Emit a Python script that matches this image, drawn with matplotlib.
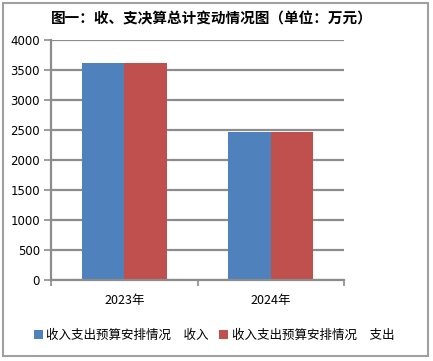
import numpy as np
import matplotlib.pyplot as plt
from matplotlib.patches import Rectangle

plt.rcParams['font.family'] = ['Noto Sans CJK SC', 'DejaVu Sans']

years = ['2023年', '2024年']
income = [3615, 2460]
expense = [3615, 2460]
labels = ['收入支出预算安排情况　收入', '收入支出预算安排情况　支出']
yticks = [0, 500, 1000, 1500, 2000, 2500, 3000, 3500, 4000]

fig = plt.figure(figsize=(4.33, 3.61), dpi=100)
ax = fig.add_axes([51/433, 1 - 280/361, 293/433, 240/361])

x = np.arange(len(years))
w = 0.29
b1 = ax.bar(x - w/2, income, w, color='#4F81BD', label=labels[0])
b2 = ax.bar(x + w/2, expense, w, color='#C0504D', label=labels[1])

ax.set_xlim(-0.5, 1.5)
ax.set_ylim(0, 4000)
ax.set_yticks(yticks)
ax.set_yticklabels([str(v) for v in yticks], fontsize=8.5, family='DejaVu Sans')
ax.yaxis.grid(True, color='#8c8c8c', linewidth=1.6)
ax.set_axisbelow(True)
ax.set_xticks(x)
ax.set_xticklabels(years, fontsize=9)
ax.tick_params(axis='x', length=0, pad=10)
ax.set_xticks([-0.5, 0.5, 1.5], minor=True)
ax.tick_params(axis='x', which='minor', length=4, color='#8c8c8c', width=1.2)
ax.tick_params(axis='y', length=5, color='#8c8c8c', width=1.2, pad=3)
for s in ['top', 'right']:
    ax.spines[s].set_visible(False)
for s in ['left', 'bottom']:
    ax.spines[s].set_color('#8c8c8c')
    ax.spines[s].set_linewidth(1.6)

fig.text(212/433, 1 - 18/361, '图一：收、支决算总计变动情况图（单位：万元）',
         ha='center', va='center', fontsize=10.5, fontweight='bold')

fig.legend(handles=[b1, b2], loc='center', bbox_to_anchor=(214/433, 1 - 335/361),
           ncol=2, frameon=False, fontsize=9, handlelength=0.7, handleheight=0.7,
           handletextpad=0.3, columnspacing=0.8)

fig.patches.append(Rectangle((3/433, 5/361), 425/433, 353/361, transform=fig.transFigure,
                             fill=False, edgecolor='#a0a0a0', linewidth=1.5))

fig.savefig('out.png', dpi=100)
